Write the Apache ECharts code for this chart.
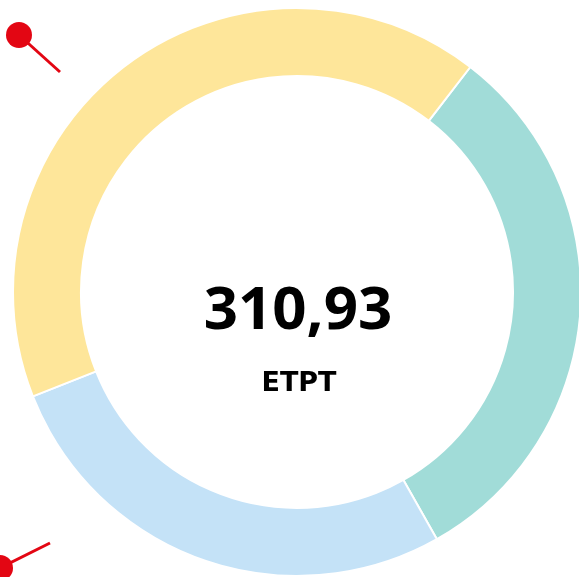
<!DOCTYPE html>
<html><head><meta charset="utf-8">
<script src="https://cdn.jsdelivr.net/npm/echarts@6/dist/echarts.min.js"></script>
<style>html,body{margin:0;padding:0;background:#fff}#c{width:579px;height:577px}</style>
</head><body><div id="c"></div>
<script>
const categories = ['Teal', 'Bleu', 'Jaune'];
const values = [97.5, 84.6, 128.83];
const colors = ['#a1dcd8', '#c4e2f7', '#fee69a'];
const totalLabel = '310,93';
const unitLabel = 'ETPT';

const chart = echarts.init(document.getElementById('c'), null, {renderer: 'canvas'});
chart.setOption({
  animation: false,
  series: [{
    type: 'pie',
    center: [297, 292],
    radius: [216, 284],
    startAngle: 52.4,
    clockwise: true,
    label: {show: false},
    labelLine: {show: false},
    itemStyle: {borderColor: '#fff', borderWidth: 2},
    emphasis: {disabled: true},
    data: categories.map((c, i) => ({name: c, value: values[i], itemStyle: {color: colors[i]}}))
  }],
  graphic: [
    {type: 'text', x: 298, y: 282, style: {text: totalLabel, align: 'center', verticalAlign: 'top', fill: '#000', font: 'bold 60px "Noto Sans"'}},
    {type: 'text', x: 299, y: 370, style: {text: unitLabel, align: 'center', verticalAlign: 'top', fill: '#000', font: 'bold 27px "DejaVu Sans"'}},
    {type: 'line', shape: {x1: 19, y1: 35, x2: 60, y2: 72}, style: {stroke: '#e30613', lineWidth: 3}},
    {type: 'circle', shape: {cx: 19, cy: 35, r: 13}, style: {fill: '#e30613'}},
    {type: 'line', shape: {x1: 0, y1: 568, x2: 50, y2: 543}, style: {stroke: '#e30613', lineWidth: 3}},
    {type: 'circle', shape: {cx: 0, cy: 568, r: 13}, style: {fill: '#e30613'}}
  ]
});
</script></body></html>
